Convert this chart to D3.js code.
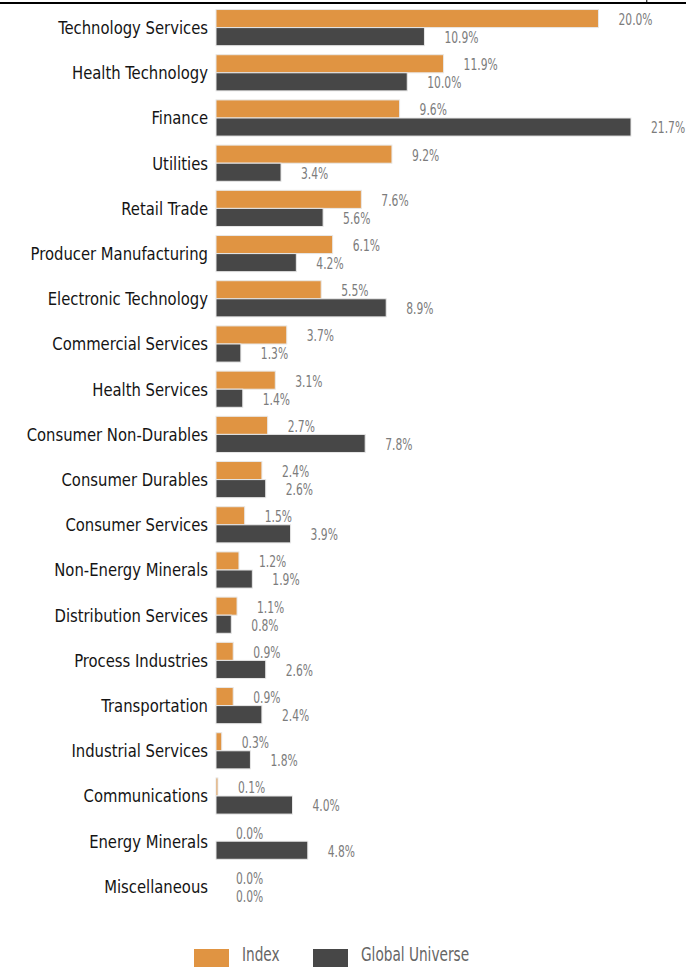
<!DOCTYPE html>
<html lang="en">
<head>
    <meta charset="UTF-8">
    <title> Sector Weights </title>
    <script type="text/javascript" src="https://cdn.jsdelivr.net/npm/d3@7"></script>
    <style type="text/css">
        body { margin: 0; background: #fff; }
        text { font-family: "DejaVu Sans Condensed", "DejaVu Sans", sans-serif; }
    </style>
</head>
<body>
    <script type="text/javascript">
        //Width and height
        var w = 686;
        var h = 967;

        var categories = [
            "Technology Services", "Health Technology", "Finance", "Utilities",
            "Retail Trade", "Producer Manufacturing", "Electronic Technology",
            "Commercial Services", "Health Services", "Consumer Non-Durables",
            "Consumer Durables", "Consumer Services", "Non-Energy Minerals",
            "Distribution Services", "Process Industries", "Transportation",
            "Industrial Services", "Communications", "Energy Minerals", "Miscellaneous"
        ];
        var indexValues = [20.0, 11.9, 9.6, 9.2, 7.6, 6.1, 5.5, 3.7, 3.1, 2.7,
                           2.4, 1.5, 1.2, 1.1, 0.9, 0.9, 0.3, 0.1, 0.0, 0.0];
        var universeValues = [10.9, 10.0, 21.7, 3.4, 5.6, 4.2, 8.9, 1.3, 1.4, 7.8,
                              2.6, 3.9, 1.9, 0.8, 2.6, 2.4, 1.8, 4.0, 4.8, 0.0];
        var seriesNames = ["Index", "Global Universe"];
        var seriesColors = ["#e09442", "#474747"];
        var axisTicks = [22.5];

        var rows = categories.map(function(c, i) {
            return { cat: c, vals: [indexValues[i], universeValues[i]] };
        });

        //Scales
        var xScale = d3.scaleLinear()
            .domain([0, 24])
            .range([216, 216 + 24 * 19.124]);

        var yScale = d3.scaleBand()
            .domain(categories)
            .range([5, 5 + categories.length * 45.2])
            .paddingInner(0.2)
            .paddingOuter(0.1);

        var subScale = d3.scaleBand()
            .domain([0, 1])
            .range([0, yScale.bandwidth()]);

        var svg = d3.select("body")
            .append("svg")
            .attr("width", w)
            .attr("height", h);

        //Top axis line
        svg.append("line")
            .attr("x1", 0).attr("x2", w)
            .attr("y1", 3).attr("y2", 3)
            .attr("stroke", "#000")
            .attr("stroke-width", 2);

        var axis = svg.append("g")
            .attr("transform", "translate(0,3)")
            .call(d3.axisTop(xScale).tickValues(axisTicks).tickFormat("").tickSize(6).tickSizeOuter(0));
        axis.select(".domain").remove();
        axis.selectAll("line").attr("stroke", "#000");

        //Groups per category
        var groups = svg.selectAll("g.row")
            .data(rows)
            .enter()
            .append("g")
            .attr("class", "row")
            .attr("transform", function(d) { return "translate(0," + yScale(d.cat) + ")"; });

        groups.append("text")
            .text(function(d) { return d.cat; })
            .attr("transform", "translate(208," + (yScale.bandwidth() / 2) + ") scale(0.89,1)")
            .attr("dy", "0.35em")
            .attr("text-anchor", "end")
            .attr("font-size", "18.5px")
            .attr("fill", "#141414");

        groups.selectAll("rect")
            .data(function(d) { return d.vals; })
            .enter()
            .append("rect")
            .attr("x", xScale(0))
            .attr("y", function(d, i) { return subScale(i); })
            .attr("width", function(d) { return xScale(d) - xScale(0); })
            .attr("height", subScale.bandwidth())
            .attr("fill", function(d, i) { return seriesColors[i]; })
            .attr("stroke", "#e8e8e8")
            .attr("stroke-width", 1);

        groups.selectAll("text.val")
            .data(function(d) { return d.vals; })
            .enter()
            .append("text")
            .attr("class", "val")
            .text(function(d) { return d.toFixed(1) + "%"; })
            .attr("transform", function(d, i) {
                return "translate(" + (xScale(d) + 20) + "," + (subScale(i) + subScale.bandwidth() / 2 + 1) + ") scale(0.77,1)";
            })
            .attr("dy", "0.35em")
            .attr("font-size", "15.5px")
            .attr("fill", "#7c7c7c");

        //Legend
        var legendX = [194, 313];
        var legend = svg.selectAll("g.legend")
            .data(seriesNames)
            .enter()
            .append("g")
            .attr("class", "legend")
            .attr("transform", function(d, i) { return "translate(" + legendX[i] + ",949)"; });

        legend.append("rect")
            .attr("width", 35)
            .attr("height", 18)
            .attr("fill", function(d, i) { return seriesColors[i]; });

        legend.append("text")
            .text(function(d) { return d; })
            .attr("transform", "translate(48,12) scale(0.78,1)")
            .attr("font-size", "19.5px")
            .attr("fill", "#666");
    </script>
</body>
</html>
